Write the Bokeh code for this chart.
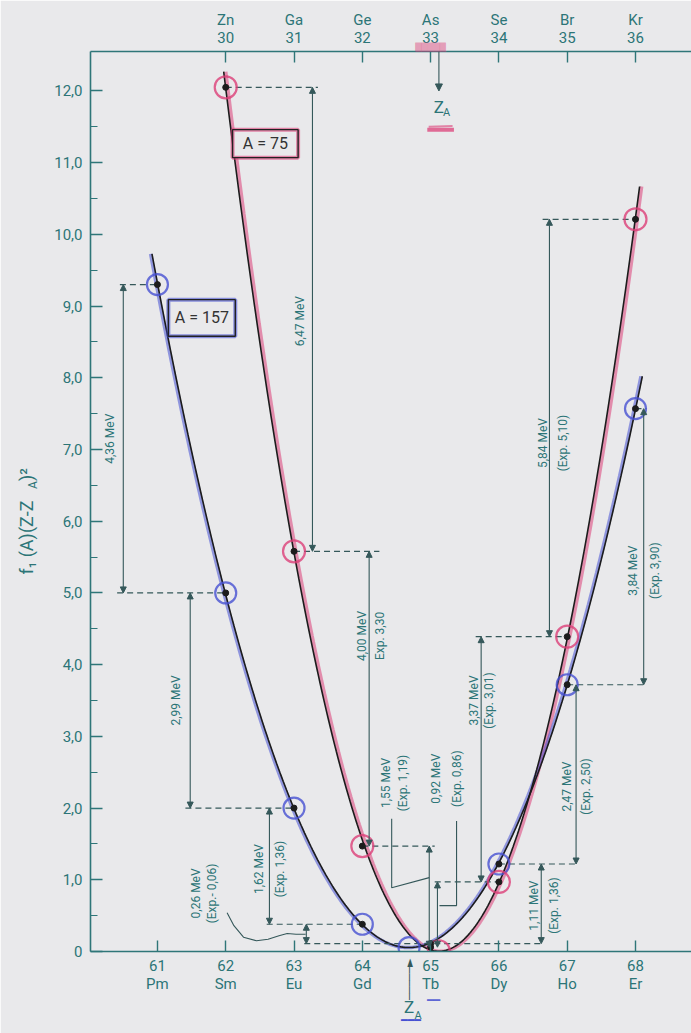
import numpy as np
from bokeh.plotting import figure
from bokeh.models import Range1d, LinearAxis, FixedTicker, Arrow, NormalHead
from bokeh.core.properties import value
from bokeh.embed import file_html
from bokeh.resources import INLINE

# ---------------- data ----------------
z157 = [61, 62, 63, 64, 65, 66, 67, 68]
el157 = ["Pm", "Sm", "Eu", "Gd", "Tb", "Dy", "Ho", "Er"]
val157 = [9.30, 5.00, 2.00, 0.38, 0.11, 1.22, 3.72, 7.57]

z75 = [30, 31, 32, 33, 34, 35, 36]
el75 = ["Zn", "Ga", "Ge", "As", "Se", "Br", "Kr"]
val75 = [12.05, 5.58, 1.47, 0.06, 0.97, 4.39, 10.21]
z_shift = 32  # Z(A=75) is drawn above Z(A=157) = Z + 32

y_ticks = list(range(13))
y_tick_labels = ["0"] + [f"{i},0" for i in range(1, 13)]

# energy differences (text), series, from-index, to-index
ann_mev = ["4,36 MeV", "2,99 MeV", "1,62 MeV", "0,26 MeV", "6,47 MeV", "4,00 MeV", "1,55 MeV",
           "0,92 MeV", "3,37 MeV", "5,84 MeV", "2,47 MeV", "3,84 MeV", "1,11 MeV"]
ann_exp = ["", "", "(Exp. 1,36)", "(Exp.- 0,06)", "", "Exp. 3,30", "(Exp. 1,19)",
           "(Exp. 0,86)", "(Exp. 3,01)", "(Exp. 5,10)", "(Exp. 2,50)", "(Exp. 3,90)", "(Exp. 1,36)"]
ann_series = ["b", "b", "b", "b", "r", "r", "r", "r", "r", "r", "b", "b", "b"]
ann_from = [0, 1, 2, 3, 0, 1, 2, 4, 5, 6, 6, 7, 5]
ann_to = [1, 2, 3, 4, 1, 2, 3, 3, 4, 5, 5, 6, 4]

# ---------------- layout / style (not data) ----------------
BG = "#e9e9eb"
TEAL = "#2c7577"
AXC = "#2f7678"
ARC = "#35585a"
RED = "#dc3f78"
BLUE = "#4650d2"
FONT = "Roboto"

ann_arrow_x = [60.50, 61.48, 62.64, 63.18, 63.27, 64.10, 64.98, 65.10, 65.74, 66.74, 67.13, 68.12, 66.62]
ann_t1_x = [60.30, 61.27, 62.48, 61.57, 63.09, 64.00, 64.34, 65.08, 65.64, 66.65, 66.99, 67.96, 66.52]
ann_t2_x = [None, None, 62.80, 61.80, None, 64.26, 64.60, 65.38, 65.86, 66.94, 67.28, 68.29, 66.81]
ann_t_y = [7.15, 3.50, 1.15, 0.81, 8.79, 4.40, 2.35, 2.41, 3.50, 7.09, 2.30, 5.31, 0.64]

dash_series = ["b", "b", "b", "b", "b", "r", "r", "r", "r", "r", "r", "b", "b", "b"]
dash_idx = [0, 1, 2, 3, 4, 0, 1, 2, 4, 5, 6, 6, 5, 7]
dash_x0 = [60.45, 60.41, 61.41, 62.60, 63.15, 62.0, 63.0, 64.0, 65.06, 65.66, 66.64, 67.0, 66.0, 68.0]
dash_x1 = [61.0, 62.0, 63.0, 64.0, 66.66, 63.35, 64.25, 65.06, 66.0, 67.0, 68.0, 68.16, 67.17, 68.16]

xr = (60.02, 68.82)
yr = (0.0, 12.55)

p = figure(width=691, height=1033, x_range=Range1d(*xr), y_range=Range1d(*yr),
           output_backend="svg", toolbar_location=None, x_axis_location=None,
           min_border_left=90, min_border_right=0, min_border_top=51, min_border_bottom=82,
           background_fill_color=BG, border_fill_color=BG, outline_line_color=None)
p.grid.visible = False
p.extra_x_ranges = {"z75": Range1d(xr[0] - z_shift, xr[1] - z_shift)}

def style_axis(ax, size="15px"):
    ax.axis_line_color = AXC
    ax.axis_line_width = 1.6
    ax.major_tick_line_color = AXC
    ax.major_tick_line_width = 1.4
    ax.minor_tick_line_color = AXC
    ax.minor_tick_line_width = 1.2
    ax.major_label_text_color = TEAL
    ax.major_label_text_font = FONT
    ax.major_label_text_font_size = size

def text_axis(ticks, labels, standoff, size="15px", rng=None, color=TEAL, orientation="horizontal",
              font=FONT, alpha=1.0):
    kwr = {"x_range_name": rng} if rng else {}
    ax = LinearAxis(ticker=FixedTicker(ticks=ticks, minor_ticks=[]), **kwr)
    style_axis(ax, size)
    ax.major_label_overrides = {t: n for t, n in zip(ticks, labels)}
    ax.axis_line_color = None
    ax.major_tick_line_color = None
    ax.major_tick_in = 0
    ax.major_tick_out = 0
    ax.major_label_standoff = standoff
    ax.major_label_text_color = color
    ax.major_label_text_alpha = alpha
    ax.major_label_text_font = font
    ax.major_label_orientation = orientation
    return ax

ya = p.yaxis[0]
ya.ticker = FixedTicker(ticks=y_ticks, minor_ticks=[t + 0.5 for t in y_ticks[:-1]])
ya.major_label_overrides = {t: s for t, s in zip(y_ticks, y_tick_labels)}
style_axis(ya)
ya.major_tick_in = 12
ya.major_tick_out = 0
ya.minor_tick_in = 7
ya.minor_tick_out = 0
ya.major_label_standoff = 8

# y-axis title f1(A)(Z-Z_A)^2 written as tick labels of two outer axes (subscript A)
p.add_layout(text_axis([6.56], ["A"], 18, size="12px", orientation=np.pi / 2), "left")
p.add_layout(text_axis([6.29, 6.74], ["f₁ (A)(Z-Z", ")²"], -10, size="18px", orientation=np.pi / 2), "left")

def num_axis(ticks, rng=None, standoff=8):
    kw = {"x_range_name": rng} if rng else {}
    ax = LinearAxis(ticker=FixedTicker(ticks=ticks, minor_ticks=[]), **kw)
    style_axis(ax)
    ax.major_tick_in = 11
    ax.major_tick_out = 0
    ax.major_label_standoff = standoff
    return ax

p.add_layout(num_axis(z75, "z75", standoff=9), "above")
p.add_layout(text_axis(z75, el75, 0, rng="z75"), "above")
# red highlighter stroke over the "33" label
p.add_layout(text_axis([33], ["█████"], -44, size="8px", rng="z75", color=RED, font="DejaVu Sans", alpha=0.45), "above")

# ---------------- curves (least-squares parabolas through the points) ----------------
x75 = np.array(z75) + z_shift
c157 = np.polyfit(z157, val157, 2)
c75 = np.polyfit(x75, val75, 2)
v157 = float(-c157[1] / (2 * c157[0]))
v75 = float(-c75[1] / (2 * c75[0]))

px_per_z = 601 / (xr[1] - xr[0])
p.add_layout(num_axis(z157, standoff=8), "below")
p.add_layout(text_axis(z157, el157, 1), "below")
# blue highlighter stroke under "Tb"
p.add_layout(text_axis([65 + 3 / px_per_z], ["━━"], -2, size="11px", color=BLUE, font="DejaVu Sans", alpha=0.85), "below")
# Z_A marker below the lower axis
p.add_layout(text_axis([v157], ["Z"], -13, size="17px"), "below")
p.add_layout(text_axis([v157 + 9 / px_per_z], ["A"], -11, size="11px"), "below")
p.add_layout(text_axis([v157 + 2 / px_per_z], ["━━━"], -11, size="11px", color=BLUE, font="DejaVu Sans"), "below")
p.add_layout(text_axis([v157], ["─────►"], -71, size="11px", color=ARC, orientation=np.pi / 2,
                       font="DejaVu Sans"), "below")

xs_b = np.linspace(60.92, 68.10, 300)
xs_r = np.linspace(61.97, 68.06, 300)
p.line(xs_r + 0.03, np.polyval(c75, xs_r), line_color=RED, line_width=3.5, line_alpha=0.55)
p.line(xs_b - 0.02, np.polyval(c157, xs_b), line_color=BLUE, line_width=3.5, line_alpha=0.55)
p.line(xs_r, np.polyval(c75, xs_r), line_color="#1c1c1c", line_width=1.6)
p.line(xs_b, np.polyval(c157, xs_b), line_color="#1c1c1c", line_width=1.6)

# ---------------- guide lines and arrows ----------------
def getv(s, i):
    return val157[i] if s == "b" else val75[i]

for s, i, a, b in zip(dash_series, dash_idx, dash_x0, dash_x1):
    v = getv(s, i)
    p.line([a, b], [v, v], line_color=ARC, line_width=1.2, line_dash="6 4")

for k in range(len(ann_mev)):
    s = ann_series[k]
    y0 = getv(s, ann_from[k])
    y1 = getv(s, ann_to[k])
    x = ann_arrow_x[k]
    p.add_layout(Arrow(x_start=x, y_start=y0, x_end=x, y_end=y1, line_color=ARC, line_width=1.1,
                       start=NormalHead(size=6, fill_color=ARC, line_color=ARC, line_width=1),
                       end=NormalHead(size=6, fill_color=ARC, line_color=ARC, line_width=1)))

txt_kw = dict(angle=np.pi / 2, text_align="center", text_baseline="middle",
              text_font=value(FONT), text_font_size="12px", text_color=TEAL)
p.text(x=ann_t1_x, y=ann_t_y, text=ann_mev, **txt_kw)
t2x = [x for x in ann_t2_x if x is not None]
t2y = [y for x, y in zip(ann_t2_x, ann_t_y) if x is not None]
t2t = [t for x, t in zip(ann_t2_x, ann_exp) if x is not None]
p.text(x=t2x, y=t2y, text=t2t, **txt_kw)

# leader lines
p.line([62.02, 62.12, 62.26, 62.45, 62.62, 62.78, 62.90, 63.03, 63.17],
       [0.54, 0.36, 0.20, 0.15, 0.17, 0.22, 0.25, 0.24, 0.24], line_color=ARC, line_width=1.1)
p.line([64.43, 64.43, 64.98], [1.85, 0.89, 1.03], line_color=ARC, line_width=1.1)
p.line([65.38, 65.38, 65.13], [1.82, 0.64, 0.64], line_color=ARC, line_width=1.1)

# ---------------- points ----------------
big_b = [v > 0.2 for v in val157]
big_r = [v > 0.2 for v in val75]
p.scatter([z for z, b in zip(z157, big_b) if b] + [v157], [v for v, b in zip(val157, big_b) if b] + [np.polyval(c157, v157)],
          size=21, fill_color=None, line_color=BLUE, line_width=2.2, line_alpha=0.8)
p.scatter([z for z, b in zip(x75, big_r) if b] + [v75], [v for v, b in zip(val75, big_r) if b] + [np.polyval(c75, v75)],
          size=22, fill_color=None, line_color=RED, line_width=2.2, line_alpha=0.8)
p.scatter(z157, val157, size=6, color="#1c1c1c")
p.scatter(x75, val75, size=6, color="#1c1c1c")

# ---------------- A boxes ----------------
p.quad(left=[62.10], right=[63.06], bottom=[11.07], top=[11.46], fill_color=BG, line_color=RED, line_width=4, line_alpha=0.6)
p.quad(left=[62.10], right=[63.06], bottom=[11.07], top=[11.46], fill_color=None, line_color="#222", line_width=1.4)
p.text(x=[62.58], y=[11.265], text=["A = 75"], text_align="center", text_baseline="middle",
       text_font=value(FONT), text_font_size="16px", text_color="#333")
p.quad(left=[61.16], right=[62.14], bottom=[8.58], top=[9.09], fill_color=BG, line_color=BLUE, line_width=4, line_alpha=0.6)
p.quad(left=[61.16], right=[62.14], bottom=[8.58], top=[9.09], fill_color=None, line_color="#222", line_width=1.4)
p.text(x=[61.65], y=[8.835], text=["A = 157"], text_align="center", text_baseline="middle",
       text_font=value(FONT), text_font_size="16px", text_color="#333")

# ---------------- Z_A marker at the top ----------------
p.add_layout(Arrow(x_start=v75, y_start=yr[1], x_end=v75, y_end=12.0, line_color=ARC, line_width=1.1,
                   end=NormalHead(size=7, fill_color=ARC, line_color=ARC)))
p.text(x=[v75], y=[11.78], text=["Z"], text_align="center", text_baseline="middle",
       text_font=value(FONT), text_font_size="17px", text_color=TEAL)
p.text(x=[v75], y=[11.78], text=["A"], text_align="left", text_baseline="middle", x_offset=4, y_offset=6,
       text_font=value(FONT), text_font_size="11px", text_color=TEAL)
p.line([v75 - 0.17, v75 + 0.22], [11.46, 11.46], line_color=RED, line_width=4, line_alpha=0.75)
p.line([v75 - 0.15, v75 + 0.20], [11.50, 11.51], line_color=RED, line_width=2, line_alpha=0.6)

open("out.html", "w").write(file_html(p, INLINE))
